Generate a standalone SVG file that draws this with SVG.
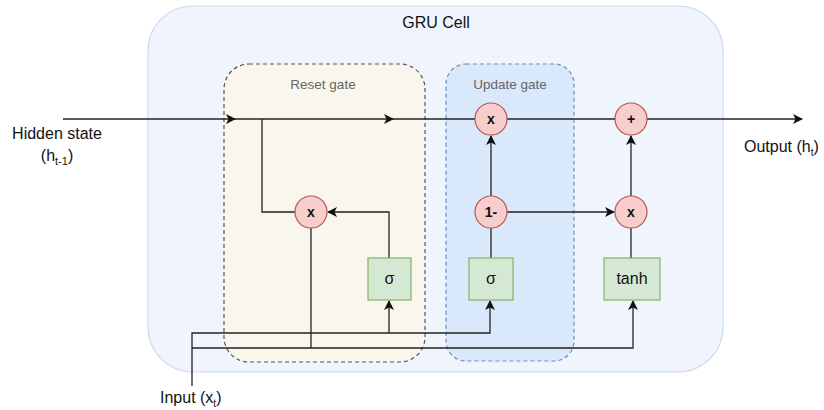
<svg xmlns="http://www.w3.org/2000/svg" width="824" height="410" viewBox="0 0 824 410">
  <defs>
    <marker id="arr" viewBox="0 0 10 10" refX="9" refY="5" markerWidth="10" markerHeight="10" markerUnits="userSpaceOnUse" orient="auto">
      <path d="M0,0 L10,5 L0,10 L2.5,5 Z" fill="#111"/>
    </marker>
  </defs>
  <style>
    text { font-family: "Liberation Sans", Arial, sans-serif; fill: #111; }
    .lbl { font-size: 16px; }
    .gate { font-size: 13.5px; fill: #666; text-anchor: middle; }
    .op { fill: #f8cecc; stroke: #b85450; stroke-width: 1.2; }
    .opt { font-size: 14px; font-weight: bold; text-anchor: middle; }
    .act { fill: #d5e8d4; stroke: #82b366; stroke-width: 1.2; }
    .actt { font-size: 16px; text-anchor: middle; }
    .wire { fill: none; stroke: #222; stroke-width: 1.3; }
  </style>

  <!-- GRU cell container -->
  <g id="gru-cell">
    <rect x="148" y="6" width="575" height="366" rx="45" fill="#f0f5fd" stroke="#ccdaf0" stroke-width="1.2"/>
    <text x="436" y="28" class="lbl" text-anchor="middle">GRU Cell</text>
  </g>

  <!-- gate regions -->
  <g id="reset-gate">
    <rect x="224" y="64" width="201" height="298" rx="25" fill="#f8f6ed" stroke="#555" stroke-width="1.2" stroke-dasharray="4 3"/>
    <text x="323" y="89" class="gate">Reset gate</text>
  </g>
  <g id="update-gate">
    <rect x="446" y="64" width="128" height="297" rx="20" fill="#dae8fc" stroke="#6c8ebf" stroke-width="1.2" stroke-dasharray="4 3"/>
    <text x="510" y="89" class="gate">Update gate</text>
  </g>

  <!-- connectors -->
  <g id="connectors">
    <!-- hidden state path -->
    <line class="wire" x1="63" y1="119" x2="235" y2="119" marker-end="url(#arr)"/>
    <line class="wire" x1="235" y1="119" x2="393" y2="119" marker-end="url(#arr)"/>
    <line class="wire" x1="393" y1="119" x2="475" y2="119"/>
    <line class="wire" x1="507" y1="119" x2="615" y2="119"/>
    <line class="wire" x1="647" y1="119" x2="802" y2="119" marker-end="url(#arr)"/>
    <!-- reset branch -->
    <polyline class="wire" points="262,119 262,212 295,212"/>
    <polyline class="wire" points="389,258 389,212 328,212" marker-end="url(#arr)"/>
    <line class="wire" x1="311" y1="228" x2="311" y2="348"/>
    <!-- update gate -->
    <line class="wire" x1="491" y1="258" x2="491" y2="228"/>
    <line class="wire" x1="491" y1="196" x2="491" y2="136" marker-end="url(#arr)"/>
    <line class="wire" x1="507" y1="212" x2="614" y2="212" marker-end="url(#arr)"/>
    <!-- candidate -->
    <line class="wire" x1="631" y1="258" x2="631" y2="228"/>
    <line class="wire" x1="631" y1="196" x2="631" y2="136" marker-end="url(#arr)"/>
    <!-- input fan-out -->
    <polyline class="wire" points="192,386 192,333 490,333 490,301" marker-end="url(#arr)"/>
    <line class="wire" x1="389" y1="333" x2="389" y2="301" marker-end="url(#arr)"/>
    <polyline class="wire" points="192,348 633,348 633,301" marker-end="url(#arr)"/>
  </g>

  <!-- operation nodes -->
  <g id="reset-mul">
    <circle cx="311" cy="212" r="16" class="op"/>
    <text x="311" y="217" class="opt">x</text>
  </g>
  <g id="update-mul">
    <circle cx="491" cy="119" r="16" class="op"/>
    <text x="491" y="124" class="opt">x</text>
  </g>
  <g id="one-minus">
    <circle cx="491" cy="212" r="16" class="op"/>
    <text x="491" y="217" class="opt">1-</text>
  </g>
  <g id="add">
    <circle cx="631" cy="119" r="16" class="op"/>
    <text x="631" y="124" class="opt">+</text>
  </g>
  <g id="cand-mul">
    <circle cx="631" cy="212" r="16" class="op"/>
    <text x="631" y="217" class="opt">x</text>
  </g>

  <!-- activations -->
  <g id="reset-sigma">
    <rect x="368" y="258" width="43" height="42" class="act"/>
    <text x="389.5" y="284" class="actt">σ</text>
  </g>
  <g id="update-sigma">
    <rect x="469" y="258" width="44" height="42" class="act"/>
    <text x="491" y="284" class="actt">σ</text>
  </g>
  <g id="tanh">
    <rect x="604" y="258" width="56" height="42" class="act"/>
    <text x="632" y="284" class="actt">tanh</text>
  </g>

  <!-- external labels -->
  <g id="hidden-state">
    <text x="57" y="139" class="lbl" text-anchor="middle">Hidden state</text>
    <text x="57" y="161" class="lbl" text-anchor="middle">(h<tspan font-size="11" dy="4">t-1</tspan><tspan dy="-4">)</tspan></text>
  </g>
  <g id="output">
    <text x="744" y="152" class="lbl">Output (h<tspan font-size="10" dy="4">t</tspan><tspan dy="-4">)</tspan></text>
  </g>
  <g id="input">
    <text x="160" y="403" class="lbl">Input (x<tspan font-size="10" dy="4">t</tspan><tspan dy="-4">)</tspan></text>
  </g>
</svg>
